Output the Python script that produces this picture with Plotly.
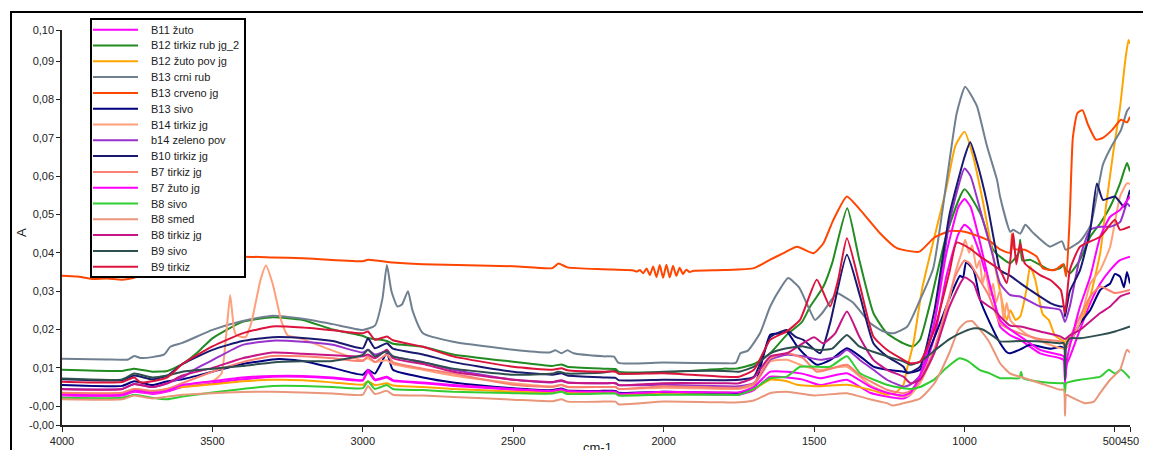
import plotly.graph_objects as go

# ---------------- data (wavenumber cm-1, absorbance A) ----------------
b11_zuto = [(4000,.0028),(3800,.0028),(3760,.0038),(3700,.0032),(3650,.0038),(3600,.005),(3500,.006),(3400,.007),(3300,.0077),(3200,.0077),(3100,.0073),(3000,.0067),(2983,.009),(2960,.0068),(2920,.0075),(2900,.0066),(2800,.006),(2700,.0053),(2500,.0043),(2370,.0038),(2340,.0042),(2320,.0038),(2200,.0035),(2160,.0035),(2150,.003),(2000,.0033),(1800,.003),(1750,.003),(1700,.0042),(1646,.0077),(1591,.0075),(1540,.007),(1480,.0055),(1391,.0069),(1314,.0035),(1258,.0025),(1203,.002),(1180,.003),(1148,.007),(1100,.018),(1060,.034),(1020,.045),(1000,.0473),(980,.046),(950,.040),(920,.032),(900,.027),(882,.0208),(848,.0185),(815,.0173),(749,.0138),(682,.0125),(670,.012),(666,.0068),(660,.011),(649,.013),(616,.020),(582,.0269),(549,.032),(516,.0355),(483,.0381),(450,.039)]

b12_tirkiz_rub = [(4000,.0095),(3800,.0092),(3760,.0098),(3700,.009),(3650,.0092),(3600,.011),(3550,.014),(3500,.0177),(3400,.022),(3300,.0232),(3200,.0225),(3100,.020),(3000,.0183),(2983,.0178),(2920,.017),(2900,.0163),(2800,.0155),(2700,.0135),(2500,.0116),(2370,.0105),(2340,.0109),(2320,.0103),(2200,.0098),(2160,.0097),(2150,.009),(2000,.0088),(1800,.0098),(1760,.0098),(1700,.011),(1646,.0138),(1591,.0186),(1540,.022),(1513,.026),(1469,.0312),(1440,.0373),(1390,.0516),(1350,.0382),(1303,.0243),(1258,.019),(1203,.0164),(1170,.0156),(1148,.0173),(1114,.0269),(1059,.045),(1000,.0566),(948,.0503),(905,.0408),(882,.039),(848,.0373),(820,.040),(815,.0434),(808,.038),(782,.0382),(715,.0355),(682,.036),(670,.037),(666,.036),(649,.0347),(616,.0382),(582,.0442),(549,.0477),(516,.052),(483,.0581),(460,.0634),(450,.0612)]

b12_zuto_pov = [(4000,.0034),(3800,.0034),(3760,.0045),(3700,.0038),(3650,.0045),(3600,.005),(3500,.0057),(3400,.0065),(3300,.0069),(3200,.0068),(3100,.0062),(3000,.0056),(2983,.0065),(2960,.0055),(2920,.006),(2900,.0054),(2800,.005),(2700,.0045),(2500,.0038),(2370,.0035),(2340,.0039),(2320,.0034),(2200,.0035),(2160,.0035),(2150,.003),(2000,.0035),(1800,.0035),(1750,.0035),(1700,.0045),(1646,.0069),(1591,.0065),(1557,.0056),(1480,.0052),(1391,.0056),(1300,.004),(1258,.003),(1230,.0035),(1203,.0056),(1192,.0095),(1170,.0164),(1140,.031),(1060,.057),(1030,.068),(1000,.0716),(971,.065),(938,.053),(905,.039),(882,.030),(860,.0225),(848,.025),(830,.0225),(815,.0234),(795,.030),(782,.0365),(765,.033),(740,.024),(720,.0225),(700,.0185),(682,.0175),(666,.0168),(649,.0182),(616,.0216),(582,.0286),(549,.040),(530,.052),(506,.066),(483,.078),(466,.090),(455,.0955),(450,.0945)]

b13_crni_rub = [(4000,.0124),(3850,.0122),(3780,.0122),(3760,.0131),(3740,.0126),(3700,.0128),(3660,.0135),(3640,.0155),(3600,.0165),(3500,.0199),(3400,.0222),(3300,.0236),(3200,.0228),(3100,.0214),(3000,.0199),(2960,.021),(2935,.028),(2920,.0368),(2905,.030),(2885,.026),(2870,.0265),(2850,.030),(2835,.025),(2800,.019),(2700,.0168),(2500,.0147),(2380,.014),(2360,.0146),(2340,.0138),(2320,.0146),(2300,.0138),(2200,.013),(2165,.0129),(2150,.0113),(2000,.0114),(1800,.0112),(1760,.0113),(1745,.0138),(1720,.0145),(1680,.019),(1646,.026),(1610,.031),(1586,.0334),(1550,.031),(1520,.026),(1497,.0225),(1473,.0243),(1440,.028),(1424,.0295),(1400,.0285),(1370,.027),(1314,.0217),(1270,.0195),(1236,.019),(1191,.0207),(1148,.0277),(1104,.036),(1059,.059),(1026,.0764),(998,.0833),(970,.080),(958,.0781),(925,.0677),(892,.059),(882,.0547),(848,.0455),(838,.046),(815,.045),(798,.0473),(772,.0452),(716,.0416),(676,.043),(664,.0408),(616,.043),(582,.047),(560,.055),(540,.063),(510,.068),(480,.072),(460,.077),(450,.078)]

b13_crveno = [(4000,.034),(3950,.0338),(3900,.0332),(3850,.0333),(3800,.033),(3760,.0335),(3700,.0355),(3600,.037),(3500,.0385),(3400,.039),(3300,.0388),(3200,.0386),(3000,.0378),(2983,.0382),(2900,.0375),(2800,.037),(2500,.0365),(2370,.036),(2350,.0372),(2320,.0362),(2200,.0357),(2100,.0354),(2090,.0351),(2079,.0355),(2068,.0347),(2057,.0359),(2046,.0342),(2035,.0364),(2024,.0337),(2013,.0368),(2002,.0335),(1991,.0369),(1980,.0336),(1969,.0366),(1958,.034),(1947,.0361),(1936,.0345),(1925,.0356),(1914,.035),(1900,.0353),(1800,.0355),(1700,.036),(1646,.0382),(1600,.040),(1557,.0416),(1502,.0399),(1469,.0425),(1436,.0486),(1391,.0547),(1347,.0512),(1281,.0451),(1225,.0412),(1150,.0403),(1100,.044),(1048,.0457),(1000,.0455),(960,.0445),(915,.043),(880,.0408),(849,.040),(842,.045),(835,.041),(800,.0408),(760,.039),(740,.036),(700,.0355),(672,.037),(662,.0338),(650,.050),(640,.070),(625,.0764),(608,.0772),(590,.0735),(563,.0695),(540,.070),(510,.072),(480,.0747),(460,.074),(450,.0755)]

b13_sivo = [(4000,.0055),(3800,.0053),(3760,.0065),(3700,.0055),(3650,.0065),(3600,.007),(3500,.009),(3400,.011),(3280,.0123),(3200,.0118),(3100,.010),(3000,.0082),(2983,.0095),(2960,.0085),(2920,.0138),(2900,.0095),(2800,.0075),(2700,.0062),(2500,.0047),(2370,.0042),(2340,.0046),(2320,.0041),(2200,.004),(2160,.004),(2150,.0035),(2000,.0038),(1800,.0035),(1750,.0035),(1700,.005),(1646,.0186),(1610,.019),(1591,.0195),(1560,.016),(1536,.0138),(1491,.0108),(1447,.012),(1391,.0151),(1347,.013),(1303,.0103),(1258,.0095),(1203,.009),(1180,.0088),(1148,.0095),(1100,.018),(1040,.030),(1015,.034),(1005,.0335),(995,.0375),(970,.0355),(948,.0277),(915,.0216),(882,.0165),(858,.014),(848,.0138),(815,.0148),(782,.016),(715,.015),(680,.0155),(666,.015),(650,.0165),(616,.0216),(582,.0251),(549,.0303),(516,.032),(500,.0345),(483,.0338),(470,.031),(460,.035),(450,.032)]

b14_tirkiz = [(4000,.003),(3800,.003),(3760,.004),(3700,.0035),(3650,.004),(3600,.0055),(3500,.0065),(3470,.0085),(3455,.018),(3441,.029),(3428,.020),(3420,.0185),(3390,.018),(3370,.022),(3340,.033),(3322,.0367),(3300,.032),(3270,.022),(3250,.0185),(3200,.0175),(3150,.016),(3100,.0145),(3000,.012),(2983,.0125),(2960,.0115),(2920,.012),(2900,.011),(2800,.0095),(2700,.008),(2500,.006),(2370,.0052),(2340,.0056),(2320,.0051),(2200,.005),(2160,.005),(2150,.0045),(2000,.0048),(1800,.0045),(1750,.0045),(1700,.0055),(1646,.0116),(1591,.0121),(1536,.0105),(1480,.0095),(1391,.0103),(1314,.0055),(1258,.0035),(1203,.0025),(1180,.003),(1148,.006),(1100,.014),(1060,.025),(1030,.035),(1010,.040),(998,.0434),(985,.040),(975,.042),(960,.036),(950,.038),(940,.032),(930,.035),(915,.029),(905,.032),(895,.027),(882,.0303),(870,.0225),(860,.027),(848,.0225),(815,.020),(782,.0182),(715,.016),(666,.015),(650,.0165),(616,.022),(582,.032),(549,.0355),(516,.0416),(483,.0547),(460,.0581),(450,.058)]

b14_zeleno_pov = [(4000,.0045),(3800,.0045),(3760,.0058),(3700,.005),(3650,.006),(3600,.0075),(3550,.010),(3500,.012),(3400,.016),(3300,.0171),(3200,.0168),(3100,.016),(3000,.014),(2983,.0147),(2960,.0135),(2920,.0143),(2900,.013),(2800,.0115),(2700,.0095),(2500,.0069),(2370,.0062),(2340,.0066),(2320,.0062),(2200,.006),(2160,.006),(2150,.0055),(2000,.0056),(1800,.0052),(1750,.0052),(1700,.006),(1646,.0121),(1591,.0134),(1536,.013),(1480,.0121),(1420,.013),(1391,.0147),(1347,.012),(1303,.0095),(1258,.0069),(1203,.0051),(1180,.0056),(1148,.008),(1100,.022),(1050,.048),(1000,.062),(980,.060),(948,.0512),(905,.039),(882,.032),(848,.029),(815,.0286),(749,.026),(682,.0251),(666,.022),(650,.026),(616,.039),(582,.046),(549,.0468),(516,.0468),(483,.048),(460,.0529),(450,.052)]

b10_tirkiz = [(4000,.007),(3800,.0068),(3760,.008),(3700,.007),(3650,.008),(3600,.011),(3500,.0147),(3400,.017),(3300,.018),(3200,.0178),(3100,.017),(3000,.0151),(2983,.0177),(2960,.0151),(2920,.0164),(2900,.015),(2800,.0135),(2700,.0115),(2500,.009),(2370,.0082),(2340,.0086),(2320,.008),(2200,.0075),(2160,.0074),(2150,.0068),(2000,.0069),(1800,.0068),(1750,.0069),(1700,.0077),(1646,.018),(1624,.019),(1591,.0199),(1560,.018),(1536,.0173),(1480,.0138),(1447,.0216),(1391,.0395),(1347,.0286),(1303,.0164),(1258,.013),(1203,.0103),(1190,.0086),(1148,.0103),(1100,.025),(1050,.050),(1000,.065),(981,.0688),(958,.0634),(925,.0529),(892,.039),(882,.0355),(848,.034),(815,.0321),(782,.0303),(715,.0269),(682,.026),(670,.026),(666,.0234),(660,.026),(650,.030),(616,.0355),(582,.046),(560,.0581),(540,.0538),(500,.0547),(470,.052),(450,.0564)]

b7_tirkiz = [(4000,.0035),(3800,.0035),(3760,.0045),(3700,.004),(3650,.0045),(3600,.006),(3500,.009),(3400,.0115),(3300,.0131),(3200,.013),(3100,.0125),(3000,.0118),(2983,.013),(2960,.0115),(2920,.0135),(2900,.0115),(2800,.0098),(2700,.0085),(2500,.0056),(2370,.005),(2340,.0055),(2320,.005),(2200,.005),(2160,.005),(2150,.0045),(2000,.0052),(1800,.0048),(1750,.0048),(1700,.006),(1646,.0125),(1591,.0138),(1536,.0125),(1491,.009),(1391,.0108),(1347,.008),(1258,.0043),(1203,.0034),(1180,.004),(1148,.007),(1100,.015),(1060,.026),(1030,.034),(1000,.038),(980,.037),(950,.033),(920,.029),(900,.025),(882,.0216),(848,.020),(815,.019),(749,.0175),(682,.0169),(666,.016),(650,.018),(616,.0234),(582,.0286),(549,.0312),(500,.0295),(450,.0303)]

b7_zuto = [(4000,.003),(3800,.003),(3760,.004),(3700,.0035),(3650,.004),(3600,.0055),(3500,.0065),(3400,.0075),(3300,.0079),(3200,.0079),(3100,.0075),(3000,.0069),(2983,.0095),(2960,.007),(2920,.0077),(2900,.0068),(2800,.0062),(2700,.0055),(2500,.0045),(2370,.004),(2340,.0044),(2320,.004),(2200,.0038),(2160,.0038),(2150,.0033),(2000,.0038),(1800,.0036),(1750,.0036),(1700,.005),(1646,.009),(1591,.009),(1540,.0085),(1480,.0073),(1391,.0086),(1314,.0051),(1258,.0035),(1203,.0028),(1180,.0035),(1148,.008),(1100,.022),(1060,.040),(1020,.052),(1000,.054),(980,.052),(948,.0425),(920,.033),(900,.027),(882,.0225),(848,.020),(815,.0182),(749,.0147),(682,.0134),(670,.013),(666,.006),(660,.012),(649,.016),(616,.026),(582,.0338),(549,.0442),(516,.0494),(483,.0512),(450,.0547)]

b8_sivo = [(4000,.0022),(3800,.0022),(3760,.003),(3700,.0022),(3650,.0018),(3600,.0025),(3500,.0036),(3400,.0045),(3300,.0053),(3200,.0053),(3100,.005),(3000,.0047),(2983,.0065),(2960,.0045),(2920,.0055),(2900,.0045),(2800,.0042),(2700,.0038),(2500,.0034),(2370,.0033),(2340,.0038),(2320,.0032),(2200,.0033),(2160,.0033),(2150,.0028),(2000,.003),(1800,.003),(1750,.003),(1700,.0045),(1646,.0073),(1591,.0077),(1547,.0103),(1500,.0103),(1447,.0103),(1391,.013),(1347,.0086),(1258,.0056),(1203,.0047),(1180,.0045),(1148,.005),(1100,.007),(1060,.010),(1017,.0125),(990,.0118),(950,.0095),(915,.0085),(882,.0073),(848,.0073),(818,.0073),(812,.009),(806,.0073),(749,.0064),(682,.006),(670,.006),(666,.0035),(662,.006),(616,.0069),(549,.0077),(520,.0095),(500,.0085),(480,.0095),(450,.0073)]

b8_smed = [(4000,.0018),(3800,.0018),(3760,.0028),(3700,.002),(3650,.0025),(3600,.003),(3500,.0034),(3400,.0037),(3300,.0038),(3200,.0036),(3100,.0033),(3000,.003),(2983,.0053),(2960,.0032),(2920,.004),(2900,.003),(2800,.0028),(2700,.0024),(2500,.0017),(2370,.0013),(2340,.0018),(2320,.0012),(2200,.0012),(2160,.0012),(2150,.0005),(2000,.0012),(1800,.001),(1750,.001),(1700,.0015),(1646,.0034),(1591,.0038),(1500,.0028),(1391,.0034),(1314,.0018),(1258,.0008),(1240,.0002),(1203,.0008),(1148,.002),(1100,.006),(1050,.014),(1020,.020),(995,.022),(975,.0222),(960,.021),(920,.017),(900,.014),(882,.0112),(848,.0085),(815,.0077),(749,.006),(682,.0043),(670,.0043),(666,-.0025),(662,.003),(649,.0025),(600,.0008),(570,.0012),(549,.0035),(516,.0069),(483,.0095),(460,.0147),(450,.014)]

b8_tirkiz = [(4000,.0044),(3800,.0045),(3760,.0058),(3700,.005),(3650,.006),(3600,.008),(3500,.010),(3400,.0125),(3300,.014),(3200,.0137),(3100,.0133),(3000,.013),(2983,.0135),(2960,.0125),(2920,.0147),(2900,.0125),(2800,.011),(2700,.009),(2500,.0069),(2370,.0063),(2340,.0068),(2320,.0062),(2200,.006),(2160,.006),(2150,.0055),(2000,.006),(1800,.006),(1750,.006),(1700,.0075),(1646,.013),(1591,.0138),(1500,.018),(1470,.0164),(1430,.019),(1391,.0247),(1350,.0182),(1303,.0121),(1258,.0095),(1203,.0077),(1180,.006),(1148,.0069),(1100,.014),(1050,.026),(1000,.0336),(970,.032),(948,.0277),(900,.025),(882,.0234),(848,.021),(815,.0208),(749,.0195),(682,.0182),(666,.0175),(650,.0185),(616,.0199),(549,.0243),(516,.026),(483,.0286),(450,.0295)]

b9_sivo = [(4000,.0072),(3800,.007),(3760,.0085),(3700,.0075),(3650,.008),(3600,.009),(3500,.0098),(3400,.0105),(3300,.0114),(3200,.0117),(3100,.0118),(3000,.0134),(2983,.0147),(2960,.013),(2920,.0143),(2900,.013),(2800,.0115),(2700,.0098),(2500,.0082),(2370,.0085),(2350,.009),(2320,.0085),(2200,.0088),(2160,.0092),(2150,.0085),(2000,.009),(1800,.0092),(1750,.009),(1700,.0103),(1646,.0138),(1591,.0151),(1536,.0156),(1491,.0147),(1440,.015),(1391,.0186),(1350,.0156),(1258,.013),(1200,.0116),(1180,.0108),(1148,.0116),(1100,.0145),(1050,.0175),(1000,.0195),(966,.0203),(940,.020),(900,.018),(882,.0169),(815,.017),(749,.0169),(682,.0164),(670,.0165),(666,.0069),(662,.016),(650,.0177),(616,.0177),(549,.0186),(500,.0195),(450,.0208)]

b9_tirkiz = [(4000,.0064),(3800,.0063),(3760,.0075),(3740,.0062),(3700,.0065),(3650,.0075),(3600,.011),(3500,.0156),(3400,.019),(3300,.0208),(3200,.0205),(3100,.0198),(3000,.019),(2983,.0195),(2960,.0173),(2920,.0182),(2900,.0172),(2800,.0155),(2700,.013),(2500,.0103),(2370,.0095),(2340,.0099),(2320,.0094),(2200,.009),(2160,.009),(2150,.0085),(2000,.0086),(1800,.0077),(1750,.0077),(1700,.0095),(1646,.0173),(1591,.0195),(1547,.0225),(1491,.033),(1447,.026),(1420,.033),(1391,.0438),(1347,.0312),(1303,.0182),(1258,.0147),(1203,.0121),(1180,.0112),(1148,.0116),(1100,.020),(1050,.035),(1026,.0427),(980,.041),(948,.039),(882,.0355),(860,.0321),(848,.038),(838,.0451),(828,.037),(815,.0425),(800,.0373),(749,.0342),(715,.0329),(680,.0303),(666,.0243),(650,.0355),(616,.0416),(549,.0442),(500,.0486),(483,.046),(450,.0468)]

series_names = ["B11 žuto", "B12 tirkiz rub jg_2", "B12 žuto pov jg", "B13 crni rub",
                "B13 crveno jg", "B13 sivo", "B14 tirkiz jg", "b14 zeleno pov",
                "B10 tirkiz jg", "B7 tirkiz jg", "B7 žuto jg", "B8 sivo",
                "B8 smed", "B8 tirkiz jg", "B9 sivo", "B9 tirkiz"]
series_data = [b11_zuto, b12_tirkiz_rub, b12_zuto_pov, b13_crni_rub,
               b13_crveno, b13_sivo, b14_tirkiz, b14_zeleno_pov,
               b10_tirkiz, b7_tirkiz, b7_zuto, b8_sivo,
               b8_smed, b8_tirkiz, b9_sivo, b9_tirkiz]
series_colors = ["#FF00FF", "#228B22", "#FFA500", "#708090",
                 "#FF4500", "#000080", "#FFA07A", "#9932CC",
                 "#191970", "#FA8072", "#FF00FF", "#32CD32",
                 "#E9967A", "#C71585", "#2F4F4F", "#DC143C"]

x_tick_vals = [4000, 3500, 3000, 2500, 2000, 1500, 1000, 500, 450]
x_tick_text = ["4000", "3500", "3000", "2500", "2000", "1500", "1000", "500\u00a0\u00a0", "450"]
y_tick_vals = [-0.0049, 0.0, 0.01, 0.02, 0.03, 0.04, 0.05, 0.06, 0.07, 0.08, 0.09, 0.0981]
y_tick_text = ["-0,00", "-0,00", "0,01", "0,02", "0,03", "0,04", "0,05", "0,06", "0,07", "0,08", "0,09", "0,10"]

# ---------------- layout geometry ----------------
# the page body adds an 8px offset, so the figure is sized to end at the window edge
OFF = 8
W, H = 1151 - OFF, 450 - OFF
ML, MR, MT, MB = 62 - OFF, 21, 30 - OFF, 25
PW = W - ML - MR
PH = H - MT - MB
FONT = "Liberation Sans, Arial, sans-serif"

def fx(px):
    """window pixel x -> paper coordinate"""
    return (px - OFF - ML) / PW

def fy(py):
    """window pixel y -> paper coordinate"""
    return (H - MB - (py - OFF)) / PH

fig = go.Figure()
for name, pts, col in zip(series_names, series_data, series_colors):
    pts = sorted(pts, key=lambda p: -p[0])
    fig.add_trace(go.Scatter(
        x=[p[0] for p in pts], y=[p[1] for p in pts], name=name, mode="lines",
        line=dict(color=col, width=2, shape="spline", smoothing=0.5),
        showlegend=False, hoverinfo="skip"))

shapes = []
annotations = []

# outer frame (extends past right / bottom edge)
shapes.append(dict(type="rect", xref="paper", yref="paper",
                   x0=fx(11), x1=fx(1200), y0=fy(520), y1=fy(12),
                   line=dict(color="black", width=2), fillcolor="rgba(0,0,0,0)", layer="above"))

# legend box
shapes.append(dict(type="rect", xref="paper", yref="paper",
                   x0=fx(91), x1=fx(245), y0=fy(277), y1=fy(19),
                   line=dict(color="black", width=2), fillcolor="white", layer="above"))
for i, (name, col) in enumerate(zip(series_names, series_colors)):
    ypx = 29.7 + 15.8 * i
    shapes.append(dict(type="line", xref="paper", yref="paper",
                       x0=fx(93), x1=fx(138), y0=fy(ypx), y1=fy(ypx),
                       line=dict(color=col, width=2), layer="above"))
    annotations.append(dict(text=name, xref="paper", yref="paper", x=fx(149), y=fy(ypx),
                            xanchor="left", yanchor="middle", showarrow=False,
                            font=dict(family=FONT, size=11, color="#222")))

# axis titles
annotations.append(dict(text="cm-1", xref="paper", yref="paper", x=fx(597), y=fy(438),
                        xanchor="center", yanchor="top", showarrow=False,
                        font=dict(family=FONT, size=13, color="#222")))
annotations.append(dict(text="A", xref="paper", yref="paper", x=fx(21), y=fy(233),
                        xanchor="center", yanchor="middle", showarrow=False, textangle=-90,
                        font=dict(family=FONT, size=13, color="#222")))

fig.update_layout(
    width=W, height=H,
    margin=dict(l=ML, r=MR, t=MT, b=MB, pad=0, autoexpand=False),
    paper_bgcolor="white", plot_bgcolor="white",
    showlegend=False,
    shapes=shapes, annotations=annotations,
    xaxis=dict(range=[4000, 450], tickmode="array", tickvals=x_tick_vals, ticktext=x_tick_text,
               ticks="outside", ticklen=5, tickcolor="#222", tickwidth=1, tickangle=0,
               showline=True, linecolor="#222", linewidth=1.5, showgrid=False, zeroline=False,
               automargin=False,
               tickfont=dict(family=FONT, size=11, color="#222")),
    yaxis=dict(range=[-0.0049, 0.0981], tickmode="array", tickvals=y_tick_vals, ticktext=y_tick_text,
               ticks="outside", ticklen=4, tickcolor="#222", tickwidth=1,
               showline=True, linecolor="#222", linewidth=1.5, showgrid=False, zeroline=False,
               automargin=False,
               tickfont=dict(family=FONT, size=11, color="#222")),
)

fig.write_html("out.html")
